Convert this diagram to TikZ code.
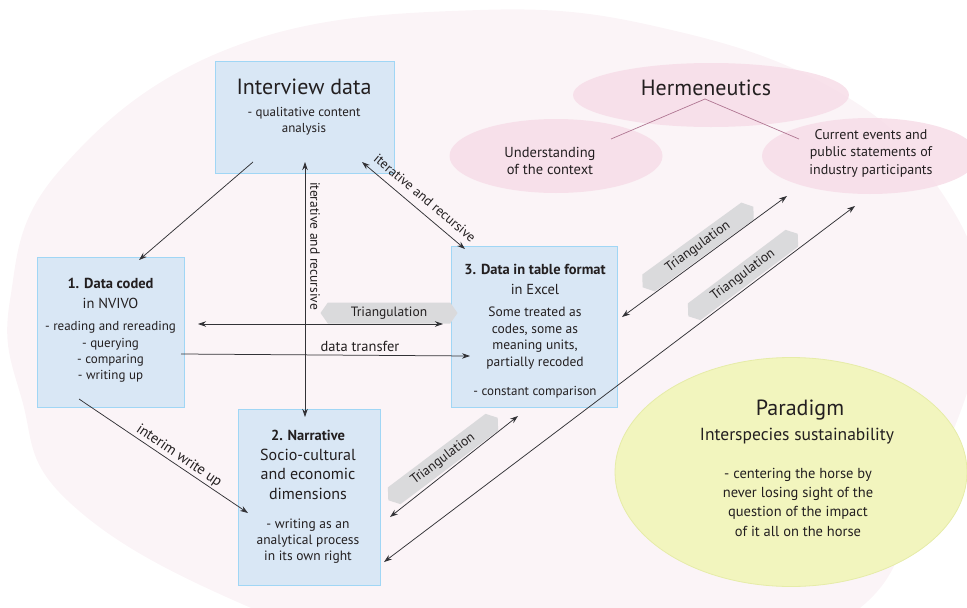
\documentclass[tikz,border=0pt]{standalone}
\usepackage{fontspec}
\setmainfont{PT Sans}
\usetikzlibrary{arrows.meta,shapes.geometric,shapes.symbols}
\definecolor{bgpink}{RGB}{251,244,247}
\definecolor{hpink}{RGB}{247,221,232}
\definecolor{hline}{RGB}{176,118,146}
\definecolor{boxfill}{RGB}{217,231,245}
\definecolor{boxline}{RGB}{160,214,245}
\definecolor{pyellow}{RGB}{242,245,190}
\definecolor{pline}{RGB}{230,236,168}
\definecolor{trigray}{RGB}{218,218,220}
\definecolor{ink}{RGB}{35,31,32}
\definecolor{arrowgray}{RGB}{50,50,54}

\begin{document}
\begin{tikzpicture}[x=1pt,y=-1pt,
    every node/.append style={inner sep=0pt,text=ink,align=center},
    box/.style={draw=boxline,fill=boxfill,line width=0.9pt,rectangle},
    hcirc/.style={ellipse,fill=hpink,fill opacity=0.85},
    conn/.style={draw=arrowgray,line width=0.75pt,-{Stealth[length=8pt,width=5.5pt]}},
    twoway/.style={conn,{Stealth[length=8pt,width=5.5pt]}-{Stealth[length=8pt,width=5.5pt]}},
    tri/.style={shape=signal,signal to=west and east,signal pointer angle=110,
        fill=trigray,minimum width=137,minimum height=21,
        font=\fontsize{13.5}{16}\selectfont},
    ttl/.style={font=\fontsize{22}{26}\selectfont},
    hd/.style={font=\fontsize{14.5}{20}\selectfont},
    txt/.style={font=\fontsize{13}{16.4}\selectfont},
    mid/.style={font=\fontsize{16}{19.5}\selectfont},
    lbl/.style={font=\fontsize{13.5}{16}\selectfont}]
    \useasboundingbox (0,0) rectangle (967,608);
    \fill[bgpink] plot[smooth cycle,tension=0.7] coordinates {(480,10) (680,32) (847,97) (940,190)
        (985,300) (967,393) (920,500) (860,608) (700,680) (450,670) (233,600) (67,500)
        (22,400) (10,300) (60,170) (233,47)};

    \node[hcirc,minimum width=276,minimum height=64] (herm) at (711,95) {};
    \node[hcirc,minimum width=213,minimum height=74] (ctx) at (556,156) {};
    \node[hcirc,minimum width=216,minimum height=76] (evt) at (870,156) {};
    \node[ttl] (herm-t) at (706,88) {Hermeneutics};
    \node[hd,font=\fontsize{14.5}{17.5}\selectfont] (ctx-t) at (550,161) {Understanding\\of the context};
    \node[hd,font=\fontsize{14}{17.5}\selectfont] (evt-t) at (871,153) {Current events and\\public statements of\\industry participants};
    \coordinate (hm-top) at (705,99);
    \coordinate (hm-l) at (611,139);
    \coordinate (hm-r) at (799,139);
    \draw[hline,line width=0.7pt] (hm-l) -- (hm-top) -- (hm-r);

    \node[ellipse,draw=pline,fill=pyellow,line width=0.8pt,minimum width=352,minimum height=229] (par) at (791,472) {};
    \node[ttl] (par-t) at (800,410) {Paradigm};
    \node[font=\fontsize{17.5}{20}\selectfont] (par-s) at (797,436) {Interspecies sustainability};
    \node[font=\fontsize{14.5}{19.3}\selectfont] (par-b) at (798,502) {- centering the horse by\\never losing sight of the\\question of the impact\\of it all on the horse};

    \node[box,minimum width=179,minimum height=112] (iv) at (304.5,117) {};
    \node[box,minimum width=147,minimum height=150] (dc) at (110.5,332) {};
    \node[box,minimum width=166,minimum height=161] (tf) at (534,326.5) {};
    \node[box,minimum width=142,minimum height=176] (nr) at (309,497) {};

    \node[ttl] (iv-t) at (304,87) {Interview data};
    \node[txt] (iv-b) at (304,121) {- qualitative content\\analysis};
    \node[hd] (dc-t) at (110.5,293.5) {\textbf{1. Data coded}\\in NVIVO};
    \node[txt] (dc-b) at (110.5,352) {- reading and rereading\\- querying\\- comparing\\- writing up};
    \node[hd] (tf-t) at (535,279) {\textbf{3. Data in table format}\\in Excel};
    \node[txt,font=\fontsize{13.5}{16.4}\selectfont] (tf-b) at (535,338) {Some treated as\\codes, some as\\meaning units,\\partially recoded};
    \node[txt] (tf-c) at (535,392) {- constant comparison};
    \node[hd] (nr-t) at (308,435) {\textbf{2. Narrative}};
    \node[mid] (nr-s) at (308,474) {Socio-cultural\\and economic\\dimensions};
    \node[txt,font=\fontsize{13.5}{16}\selectfont] (nr-b) at (308,541) {- writing as an\\analytical process\\in its own right};

    \coordinate (iv-a) at (253,162);
    \coordinate (dc-a) at (139,260);
    \draw[conn] (iv-a) -- (dc-a);
    \coordinate (iv-b1) at (305,162);
    \coordinate (nr-a) at (305,417);
    \draw[twoway] (iv-b1) -- (nr-a);
    \node[lbl,rotate=-90] (ir1) at (315,246) {iterative and recursive};
    \coordinate (iv-c) at (362,162);
    \coordinate (tf-a) at (465,249);
    \draw[twoway] (iv-c) -- (tf-a);
    \node[lbl,rotate=-40] (ir2) at (425,198) {iterative and recursive};

    \node[tri] (tr1) at (389,313) {Triangulation};
    \coordinate (dc-b1) at (198,324);
    \coordinate (tf-b1) at (443,324);
    \draw[twoway] (dc-b1) -- (tf-b1);
    \coordinate (dc-c) at (181,354);
    \coordinate (tf-c1) at (470,356);
    \draw[conn] (dc-c) -- (tf-c1);
    \node[lbl,font=\fontsize{14.5}{16}\selectfont] (dt) at (360,346) {data transfer};
    \coordinate (dc-d) at (79,399);
    \coordinate (nr-b1) at (248,513);
    \draw[conn] (dc-d) -- (nr-b1);
    \node[lbl,font=\fontsize{14.5}{16}\selectfont,rotate=-34] (iw) at (179,456) {interim write up};

    \node[tri,rotate=37] (tr2) at (443,459) {Triangulation};
    \coordinate (nr-c) at (390,517);
    \coordinate (tf-d) at (518,416);
    \draw[twoway] (nr-c) -- (tf-d);
    \node[tri,rotate=37] (tr3) at (743,275) {Triangulation};
    \coordinate (nr-d) at (384,562);
    \coordinate (evt-a) at (855,206);
    \draw[twoway] (nr-d) -- (evt-a);
    \node[tri,rotate=36] (tr4) at (698,247) {Triangulation};
    \coordinate (tf-e) at (622,317);
    \coordinate (evt-b) at (787,196);
    \draw[twoway] (tf-e) -- (evt-b);
\end{tikzpicture}
\end{document}
